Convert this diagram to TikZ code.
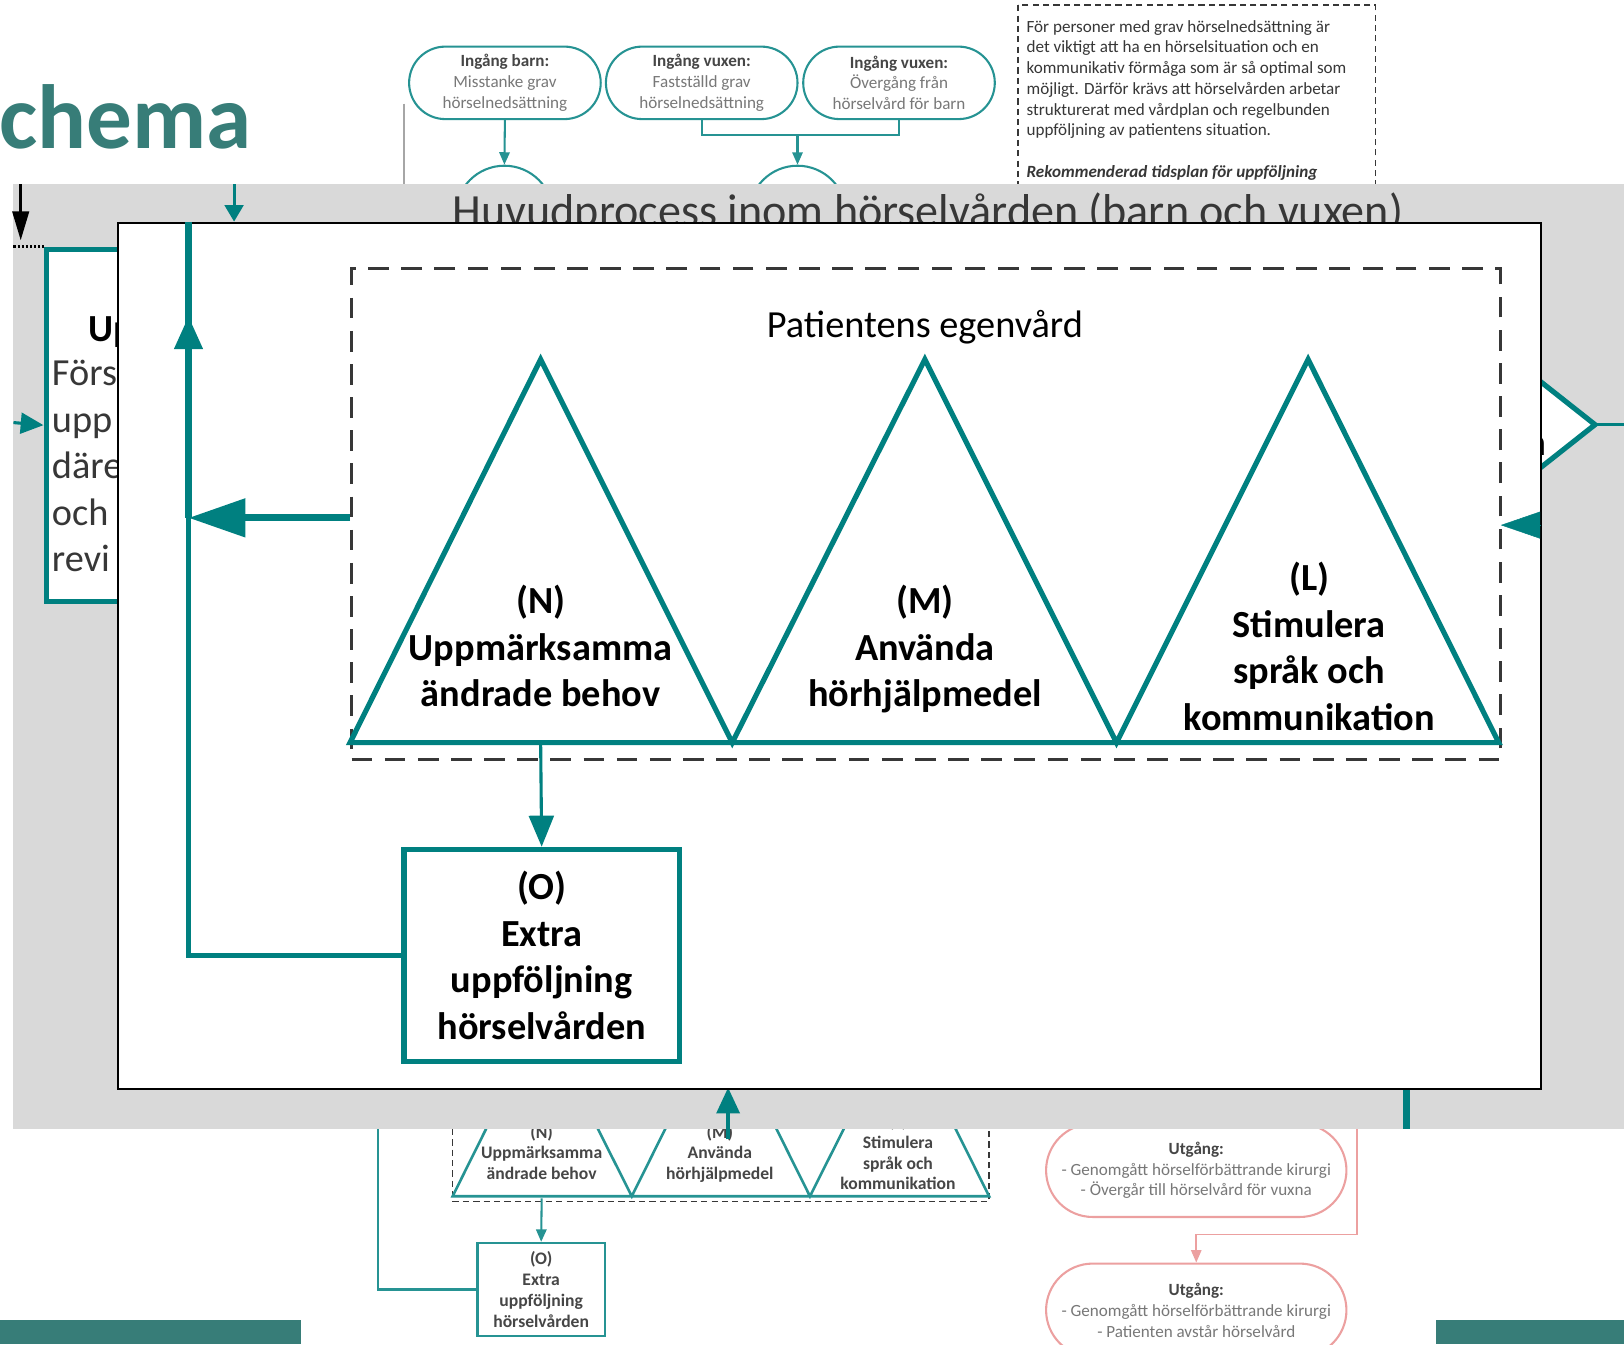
\documentclass[tikz,border=0pt]{standalone}
\usepackage{fontspec}
\setmainfont{Carlito}
\usetikzlibrary{arrows.meta,shapes.misc}
\definecolor{tl}{RGB}{0,128,128}
\definecolor{ttl}{RGB}{55,125,120}
\definecolor{bandgray}{RGB}{217,217,217}
\definecolor{pk}{RGB}{236,160,160}
\definecolor{dg}{RGB}{55,55,55}
\definecolor{fadetxt}{RGB}{120,120,120}
\definecolor{fadebold}{RGB}{70,70,70}
\newcommand\myfs[2]{\fontsize{#1}{#2}\selectfont}
\begin{document}
\begin{tikzpicture}[x=1pt,y=-1pt,
  pill/.style={draw=tl!85!white, line width=2pt, rounded rectangle, minimum width=185pt, minimum height=70pt, inner sep=0pt, align=center, font=\myfs{16.5}{20}, text=fadetxt},
  ppill/.style={draw=pk, line width=2pt, rounded rectangle, minimum width=290pt, minimum height=90pt, inner sep=0pt, align=center, font=\myfs{16.5}{20}, text=fadetxt},
  fconn/.style={draw=tl!85!white, line width=2pt},
  pconn/.style={draw=pk, line width=1.5pt},
  flab/.style={align=center, inner sep=0pt, font=\bfseries\myfs{17}{20}, text=fadebold},
  lab/.style={align=center, inner sep=0pt, font=\bfseries\myfs{37}{45}, text=black},
  tline/.style={draw=tl, line width=5pt},
]
\useasboundingbox (0,0) rectangle (1568,1298);
\fill[white] (0,0) rectangle (1568,1298);

% ---------- faded background diagram (top) ----------
\node[pill] (p1) at (487.5,80) {\textbf{\color{fadebold}Ingång barn:}\\Misstanke grav\\hörselnedsättning};
\node[pill] (p2) at (677.5,80) {\textbf{\color{fadebold}Ingång vuxen:}\\Fastställd grav\\hörselnedsättning};
\node[pill] (p3) at (868,80) {\textbf{\color{fadebold}Ingång vuxen:}\\Övergång från\\hörselvård för barn};
\node[draw=tl!85!white, line width=2pt, circle, minimum size=94pt, inner sep=0pt] (c1) at (487,207) {};
\node[draw=tl!85!white, line width=2pt, circle, minimum size=94pt, inner sep=0pt] (c2) at (770,207) {};
\coordinate (j2) at (770,130);
\draw[fconn,-{Triangle[length=12pt,width=10pt]}] (p1.south) -- (c1.north);
\draw[fconn] (p2.south) |- (j2) -| (p3.south);
\draw[fconn,-{Triangle[length=12pt,width=10pt]}] (j2) -- (c2.north);
\coordinate (gl1) at (390,100); \coordinate (gl2) at (390,1000);
\draw[gray!70, line width=2pt] (gl1) -- (gl2);
\draw[dg, line width=1.5pt, dash pattern=on 6pt off 4pt] (983,5) rectangle (1328,400);
\node[anchor=north west, align=left, inner sep=0pt, font=\myfs{16.5}{20}, text=dg] (info) at (991,19.5)
 {För personer med grav hörselnedsättning är\\
  det viktigt att ha en hörselsituation och en\\
  kommunikativ förmåga som är så optimal som\\
  möjligt. Därför krävs att hörselvården arbetar\\
  strukturerat med vårdplan och regelbunden\\
  uppföljning av patientens situation.\\[20pt]
  \textbf{\textit{Rekommenderad tidsplan för uppföljning}}};

% ---------- faded background diagram (bottom) ----------
\draw[dg, line width=1.5pt, dash pattern=on 6pt off 4pt] (437,900) rectangle (955,1160);
\draw[tl!85!white, line width=2.5pt] (437,1155) -- (523,982) -- (610,1155) -- (696,982) -- (782,1155) -- (869,982) -- (955,1155) -- cycle;
\node[flab] (fN) at (523,1112.5) {(N)\\Uppmärksamma\\ändrade behov};
\node[flab] (fM) at (695,1114) {(M)\\Använda\\hörhjälpmedel};
\node[flab] (fL) at (867,1112.5) {(L)\\Stimulera\\språk och\\kommunikation};
\node[draw=tl!85!white, line width=2pt, minimum width=123pt, minimum height=90pt, inner sep=0pt, align=center, font=\bfseries\myfs{17}{20}, text=fadebold] (fO) at (522.5,1245) {(O)\\Extra\\uppföljning\\hörselvården};
\coordinate (fNb) at (523,1157);
\draw[fconn,-{Triangle[length=12pt,width=10pt]}] (fNb) -- (fO.north);
\coordinate (fup) at (365,900);
\draw[fconn] (fO.west) -| (fup);
\node[ppill] (u1) at (1155,1130) {\textbf{\color{fadebold}Utgång:}\\- Genomgått hörselförbättrande kirurgi\\- Övergår till hörselvård för vuxna};
\node[ppill] (u2) at (1155,1265) {\textbf{\color{fadebold}Utgång:}\\- Genomgått hörselförbättrande kirurgi\\- Patienten avstår hörselvård};
\coordinate (pk1) at (1310,1000); \coordinate (pk2) at (1155,1192);
\draw[pconn,-{Triangle[length=12pt,width=10pt]}] (pk1) |- (pk2) -- (u2.north);

% ---------- title ----------
\node[anchor=base east, inner sep=0pt, font=\bfseries\myfs{88}{100}, text=ttl] (title) at (243,143) {chema};

% ---------- gray band ----------
\fill[bandgray] (13,178) rectangle (1568,1090);
\node[anchor=base, inner sep=0pt, font=\myfs{44.5}{50}, text=dg] (htitle) at (896,219) {Huvudprocess inom hörselvården (barn och vuxen)};
\node[draw=tl, line width=5pt, fill=white, minimum width=358pt, minimum height=340pt, anchor=north west, inner sep=0pt] (ubox) at (42,238) {};
\node[anchor=base west, inner sep=0pt, font=\bfseries\myfs{37}{45}] (uhead) at (85,330) {Up};
\node[anchor=west, align=left, inner sep=0pt, font=\myfs{37}{45}, text=dg] (ubody) at (50,450) {Förs\\upp\\däre\\och\\revi};
\coordinate (ba1) at (20,178); \coordinate (ba2) at (20,232); \coordinate (dl0) at (13,238);
\draw[black, line width=2.5pt, -{Triangle[length=28pt,width=16pt]}] (ba1) -- (ba2);
\draw[black, line width=2pt, dotted] (dl0) -- (ubox.north west);
\coordinate (ta1) at (226,178); \coordinate (ta2) at (226,214);
\draw[tl, line width=3pt, -{Triangle[length=16pt,width=18pt]}] (ta1) -- (ta2);
\coordinate (la1) at (13,408);
\draw[tl, line width=3pt, -{Triangle[length=22pt,width=20pt]}] (la1) -- (ubox.west);
\coordinate (cha) at (1440,331); \coordinate (chtip) at (1540,410); \coordinate (chb) at (1440,489); \coordinate (chr) at (1568,410);
\draw[tl, line width=5pt, fill=white, line join=miter] (cha) -- (chtip) -- (chb) -- cycle;
\draw[tl, line width=3pt] (chtip) -- (chr);
\node[anchor=base east, inner sep=0pt, font=\myfs{37}{45}] (nfrag) at (1493,440) {n};
\coordinate (vb1) at (1358,1050); \coordinate (vb2) at (1358,1090);
\draw[tl, line width=6pt] (vb1) -- (vb2);
\coordinate (ma1) at (703,1100); \coordinate (ma2) at (703,1050);
\draw[tl, line width=4pt, -{Triangle[length=25pt,width=22pt]}] (ma1) -- (ma2);

% ---------- zoomed panel ----------
\node[draw=black, line width=2pt, fill=white, minimum width=1374pt, minimum height=836pt, anchor=north west, inner sep=0pt] (panel) at (113,214) {};
\node[draw=dg, line width=3pt, dash pattern=on 20pt off 12pt, minimum width=1109pt, minimum height=474pt, anchor=north west, inner sep=0pt] (dbox) at (338,258) {};
\node[anchor=base, inner sep=0pt, font=\myfs{37}{45}] (pe) at (893,326) {Patientens egenvård};
\coordinate (b0) at (338,717); \coordinate (a1) at (522,347); \coordinate (b1) at (707,717);
\coordinate (a2) at (893,347); \coordinate (b2) at (1078,717); \coordinate (a3) at (1263,347);
\coordinate (b3) at (1447,717);
\draw[tline] (b0) -- (a1) -- (b1) -- (a2) -- (b2) -- (a3) -- (b3) -- cycle;
\node[lab] (tN) at (522,624) {(N)\\Uppmärksamma\\ändrade behov};
\node[lab] (tM) at (893,627) {(M)\\Använda\\hörhjälpmedel};
\node[lab] (tL) at (1264,624) {(L)\\Stimulera\\språk och\\kommunikation};
\node[draw=tl, line width=5pt, minimum width=266pt, minimum height=205pt, inner sep=0pt, align=center, font=\bfseries\myfs{37}{45}] (O) at (523,922.5) {(O)\\Extra\\uppföljning\\hörselvården};
\coordinate (N0) at (522,717);
\draw[tl, line width=3pt, -{Triangle[length=30pt,width=24pt]}] (N0) -- (O.north);
\coordinate (jL) at (182,500); \coordinate (jM) at (182,305); \coordinate (jM2) at (182,325); \coordinate (jT) at (182,214);
\coordinate (dL) at (338,500);
\draw[tl, line width=4pt] (O.west) -| (jL);
\draw[tl, line width=7pt, -{Triangle[length=32pt,width=26pt]}] (jL) -- (jM);
\draw[tl, line width=7pt] (jM2) -- (jT);
\draw[tl, line width=7pt, -{Triangle[length=55pt,width=36pt]}] (dL) -- (jL);
\coordinate (rA) at (1487,507); \coordinate (rB) at (1449,507);
\draw[tl, line width=0.5pt, -{Triangle[length=38pt,width=26pt]}] (rA) -- (rB);

% ---------- bottom bars ----------
\fill[ttl] (0,1274) rectangle (291,1298);
\fill[ttl] (1386,1274) rectangle (1568,1298);
\end{tikzpicture}
\end{document}
